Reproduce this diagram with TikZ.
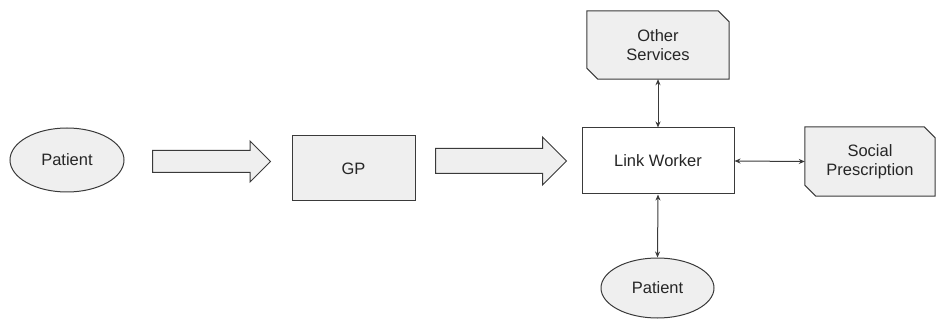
\documentclass[tikz,border=0pt]{standalone}
\usepackage{fontspec}
\setmainfont{Liberation Sans}
\usetikzlibrary{shapes.geometric,shapes.arrows,arrows.meta}
\definecolor{boxfill}{HTML}{EFEFEF}
\definecolor{edge}{HTML}{3A3A3A}
\begin{document}
\begin{tikzpicture}[x=1pt,y=-1pt,
  every node/.style={font=\fontsize{16.5}{19.5}\selectfont, text=black!85, align=center},
  oval/.style={ellipse, draw=edge, fill=boxfill, line width=1pt, inner sep=0pt},
  plainbox/.style={rectangle, draw=edge, line width=1pt, inner sep=0pt},
  cutbox/.style={rectangle, inner sep=0pt},
  cutline/.style={draw=edge, fill=boxfill, line width=1pt, line join=miter},
  blockarrow/.style={single arrow, draw=edge, fill=boxfill, line width=1pt,
     inner sep=0pt, shape border rotate=0, anchor=tail},
  link/.style={{Stealth[length=6pt,width=5pt]}-{Stealth[length=6pt,width=5pt]}, draw=edge, line width=1pt}
]
\useasboundingbox (0,0) rectangle (936,320);
\node[oval, minimum width=114pt, minimum height=64pt] (p1) at (67,160) {Patient};
\node[blockarrow, minimum height=118pt, minimum width=40pt, inner ysep=10.5pt, single arrow head extend=9.5pt] (a1) at (152,161.5) {};
\node[plainbox, fill=boxfill, minimum width=123pt, minimum height=65pt] (gp) at (353.5,168.5) {GP};
\node[blockarrow, minimum height=131pt, minimum width=47pt, inner ysep=12pt, single arrow head extend=11.5pt] (a2) at (435,161) {};
\node[plainbox, fill=white, minimum width=152pt, minimum height=66pt] (lw) at (658,161) {Link Worker};
% Other Services
\node[cutbox, minimum width=142pt, minimum height=68pt] (os) at (658,45) {};
\path[cutline] (os.north west) -- ([xshift=-11pt]os.north east) -- ([yshift=-11pt]os.north east)
  -- (os.south east) -- ([xshift=11pt]os.south west) -- ([yshift=11pt]os.south west) -- cycle;
\node at (os.center) {Other\\Services};
% Social Prescription
\node[cutbox, minimum width=130pt, minimum height=69pt] (sp) at (870,161.5) {};
\path[cutline] (sp.north west) -- ([xshift=-11pt]sp.north east) -- ([yshift=-11pt]sp.north east)
  -- (sp.south east) -- ([xshift=11pt]sp.south west) -- ([yshift=11pt]sp.south west) -- cycle;
\node at (sp.center) {Social\\Prescription};
\node[oval, minimum width=113pt, minimum height=60pt] (p2) at (657.5,288) {Patient};
\draw[link] (os.south) -- (lw.north);
\draw[link] (lw.east) -- (sp.west);
\draw[link] (lw.south) -- (p2.north);
\end{tikzpicture}
\end{document}
